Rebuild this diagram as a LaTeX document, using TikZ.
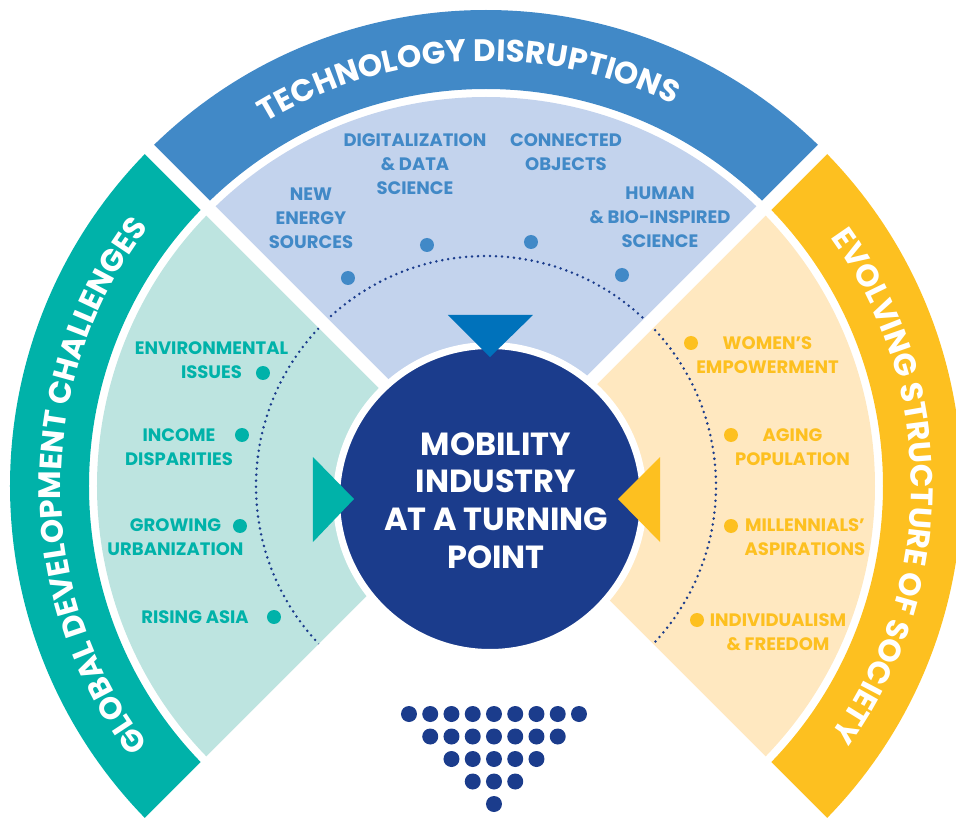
\documentclass[tikz,border=0pt]{standalone}
\usepackage{fontspec}
\setmainfont{Poppins}
\usetikzlibrary{decorations.text}

\definecolor{gdcband}{HTML}{00B2A9}
\definecolor{gdclight}{HTML}{BDE4E0}
\definecolor{techband}{HTML}{4189C7}
\definecolor{techlight}{HTML}{C3D3ED}
\definecolor{socband}{HTML}{FDC020}
\definecolor{soclight}{HTML}{FFE8C0}
\definecolor{navy}{HTML}{1B3C8C}
\definecolor{toptri}{HTML}{0072BB}

\begin{document}
\begin{tikzpicture}[x=1pt,y=1pt,
    item/.style={font=\fontsize{18}{24}\selectfont\bfseries,align=center,inner sep=0pt},
    bullet/.style={circle,inner sep=0pt,minimum size=14pt},
    dotline/.style={navy,line width=2.8pt,line cap=round,dash pattern=on 0pt off 6pt}]
    \useasboundingbox (-486,-331) rectangle (470,486);

    % sectors: light part and outer band
    \foreach \a/\band/\light in {135/gdcband/gdclight, 45/techband/techlight, -45/socband/soclight}{
        \fill[\light] (0,0) -- (\a:389) arc[start angle=\a, end angle=\a+90, radius=389] -- cycle;
        \fill[\band] (\a:397) arc[start angle=\a, end angle=\a+90, radius=397]
            -- ({\a+90}:476) arc[start angle=\a+90, end angle=\a, radius=476] -- cycle;
    }

    \draw[dotline] (225:230) arc[start angle=225, end angle=-45, radius=230];

    % white gaps between the sectors
    \foreach \a in {45,135,225,315}
        \draw[white,line width=12.8pt] (0,0) -- (\a:490);

    % hub
    \node[circle,draw=white,line width=7pt,fill=navy,minimum size=307pt] (hub) at (4,-13) {};
    \node[font=\fontsize{32}{37.7}\selectfont\bfseries,text=white,align=center] (hubtext) at (10,-14.5)
        {MOBILITY\\INDUSTRY\\AT A TURNING\\POINT};

    \fill[toptri] (-38,171) -- (47,171) -- (4,129) -- cycle;
    \fill[gdcband] (-173,29) -- (-173,-56) -- (-132,-13) -- cycle;
    \fill[socband] (174,29) -- (174,-56) -- (132,-13) -- cycle;

    % dot triangle
    \foreach \r in {0,...,4}{
        \pgfmathtruncatemacro\m{8-2*\r}
        \foreach \k in {0,...,\m}
            \fill[navy] ({8+(\k-\m/2)*21.25},{-228-\r*22.5}) circle (8);
    }

    % technology disruptions
    \node[item,text=techband] (energy) at (-175,267.5) {NEW\\ENERGY\\SOURCES};
    \node[bullet,fill=techband] (benergy) at (-138,208) {};
    \node[item,text=techband] (digital) at (-71,322) {DIGITALIZATION\\\& DATA\\SCIENCE};
    \node[bullet,fill=techband] (bdigital) at (-59,241) {};
    \node[item,text=techband] (objects) at (80,334) {CONNECTED\\OBJECTS};
    \node[bullet,fill=techband] (bobjects) at (45,244) {};
    \node[item,text=techband] (bio) at (174,269) {HUMAN\\\& BIO-INSPIRED\\SCIENCE};
    \node[bullet,fill=techband] (bbio) at (136,211) {};

    % global development challenges
    \node[item,text=gdcband] (environ) at (-274.5,125.5) {ENVIRONMENTAL\\ISSUES};
    \node[bullet,fill=gdcband] (benviron) at (-223,113) {};
    \node[item,text=gdcband] (income) at (-307,38.5) {INCOME\\DISPARITIES};
    \node[bullet,fill=gdcband] (bincome) at (-244,51) {};
    \node[item,text=gdcband] (urban) at (-310.5,-51.5) {GROWING\\URBANIZATION};
    \node[bullet,fill=gdcband] (burban) at (-246,-40) {};
    \node[item,text=gdcband] (asia) at (-291,-131) {RISING ASIA};
    \node[bullet,fill=gdcband] (basia) at (-212,-131) {};

    % evolving structure of society
    \node[item,text=socband] (women) at (281.5,131) {WOMEN'S\\EMPOWERMENT};
    \node[bullet,fill=socband] (bwomen) at (205,143) {};
    \node[item,text=socband] (aging) at (306.5,39) {AGING\\POPULATION};
    \node[bullet,fill=socband] (baging) at (245,51) {};
    \node[item,text=socband] (millen) at (319,-51.5) {MILLENNIALS'\\ASPIRATIONS};
    \node[bullet,fill=socband] (bmillen) at (245,-40) {};
    \node[item,text=socband] (indiv) at (292,-146.5) {INDIVIDUALISM\\\& FREEDOM};
    \node[bullet,fill=socband] (bindiv) at (211,-134) {};

    % band titles
    \path[decorate,decoration={text along path,text align=center,
        text={|\fontsize{31}{31}\selectfont\bfseries\color{white}|TECHNOLOGY DISRUPTIONS}}]
        (137.5:425) arc[start angle=137.5, end angle=47.5, radius=425];
    \path[decorate,decoration={text along path,text align=center,
        text={|\fontsize{31}{31}\selectfont\bfseries\color{white}|GLOBAL DEVELOPMENT CHALLENGES}}]
        (225:425) arc[start angle=225, end angle=135, radius=425];
    \path[decorate,decoration={text along path,text align=center,
        text={|\fontsize{31}{31}\selectfont\bfseries\color{white}|EVOLVING STRUCTURE OF SOCIETY}}]
        (45:425) arc[start angle=45, end angle=-45, radius=425];
\end{tikzpicture}
\end{document}
